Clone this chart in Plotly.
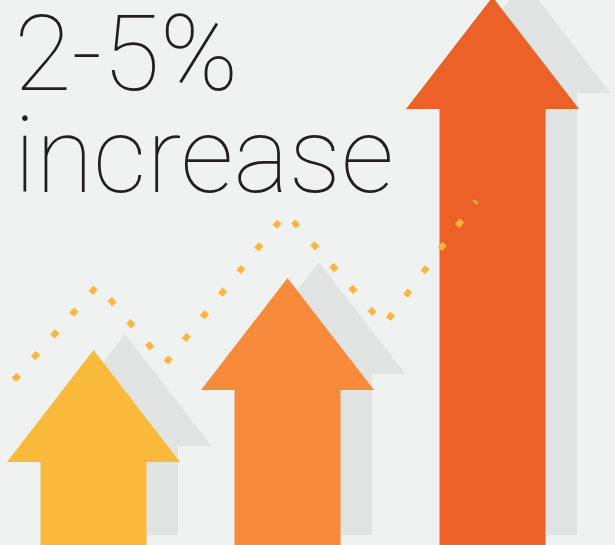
import plotly.graph_objects as go

# ---- data ----
arrow_names = ["low", "mid", "high"]
arrow_x = [93.5, 287.5, 492.5]      # arrow centre positions
arrow_top = [350, 278, -3]          # arrow tip values (axis units, y grows downward)
arrow_colors = ["#f9b93b", "#f88a3c", "#ec6127"]

trend_x = [14, 98, 165, 286, 384, 476]
trend_y = [380, 285, 364, 213, 325, 201]

headline = "2-5%"
subline = "increase"

# ---- styling / geometry constants ----
W, H = 615, 545
BG = "#f0f2f1"
SHADOW = "#e2e4e3"
HEAD_HALF = 86.5
SHAFT_HALF = 53
HEAD_H = 112
SHADOW_DX, SHADOW_DY = 31.5, -16
SHADOW_BOTTOM = 535
ARROW_BOTTOM = 560


def arrow_poly(cx, tip, bottom):
    base = tip + HEAD_H
    xs = [cx, cx + HEAD_HALF, cx + SHAFT_HALF, cx + SHAFT_HALF, cx - SHAFT_HALF, cx - SHAFT_HALF, cx - HEAD_HALF, cx]
    ys = [tip, base, base, bottom, bottom, base, base, tip]
    return xs, ys


fig = go.Figure()

for name, cx, tip, col in zip(arrow_names, arrow_x, arrow_top, arrow_colors):
    sx, sy = arrow_poly(cx + SHADOW_DX, tip + SHADOW_DY, SHADOW_BOTTOM)
    fig.add_trace(go.Scatter(x=sx, y=sy, mode="lines", fill="toself", fillcolor=SHADOW,
                             line=dict(width=0, color=SHADOW), hoverinfo="skip", name=name + " shadow"))
for name, cx, tip, col in zip(arrow_names, arrow_x, arrow_top, arrow_colors):
    ax, ay = arrow_poly(cx, tip, ARROW_BOTTOM)
    fig.add_trace(go.Scatter(x=ax, y=ay, mode="lines", fill="toself", fillcolor=col,
                             line=dict(width=0, color=col), hoverinfo="skip", name=name))

fig.add_trace(go.Scatter(x=trend_x, y=trend_y, mode="lines",
                         line=dict(color="#fbb63b", width=6, dash="7px,22px"),
                         hoverinfo="skip", name="trend"))

fig.add_annotation(x=12, y=0, yshift=9, xref="x", yref="y", text=headline, showarrow=False,
                   xanchor="left", yanchor="top",
                   font=dict(family="Roboto", size=105, weight=100, color="#231f20"))
fig.add_annotation(x=12, y=93, xref="x", yref="y", text=subline, showarrow=False,
                   xanchor="left", yanchor="top",
                   font=dict(family="Roboto", size=105, weight=100, color="#231f20"))

fig.update_layout(
    width=W, height=H, margin=dict(l=0, r=0, t=0, b=0),
    paper_bgcolor=BG, plot_bgcolor=BG, showlegend=False,
    xaxis=dict(range=[0, W], visible=False, fixedrange=True),
    yaxis=dict(range=[H, 0], visible=False, fixedrange=True),
)

fig.write_html("out.html", config={"displayModeBar": False})
